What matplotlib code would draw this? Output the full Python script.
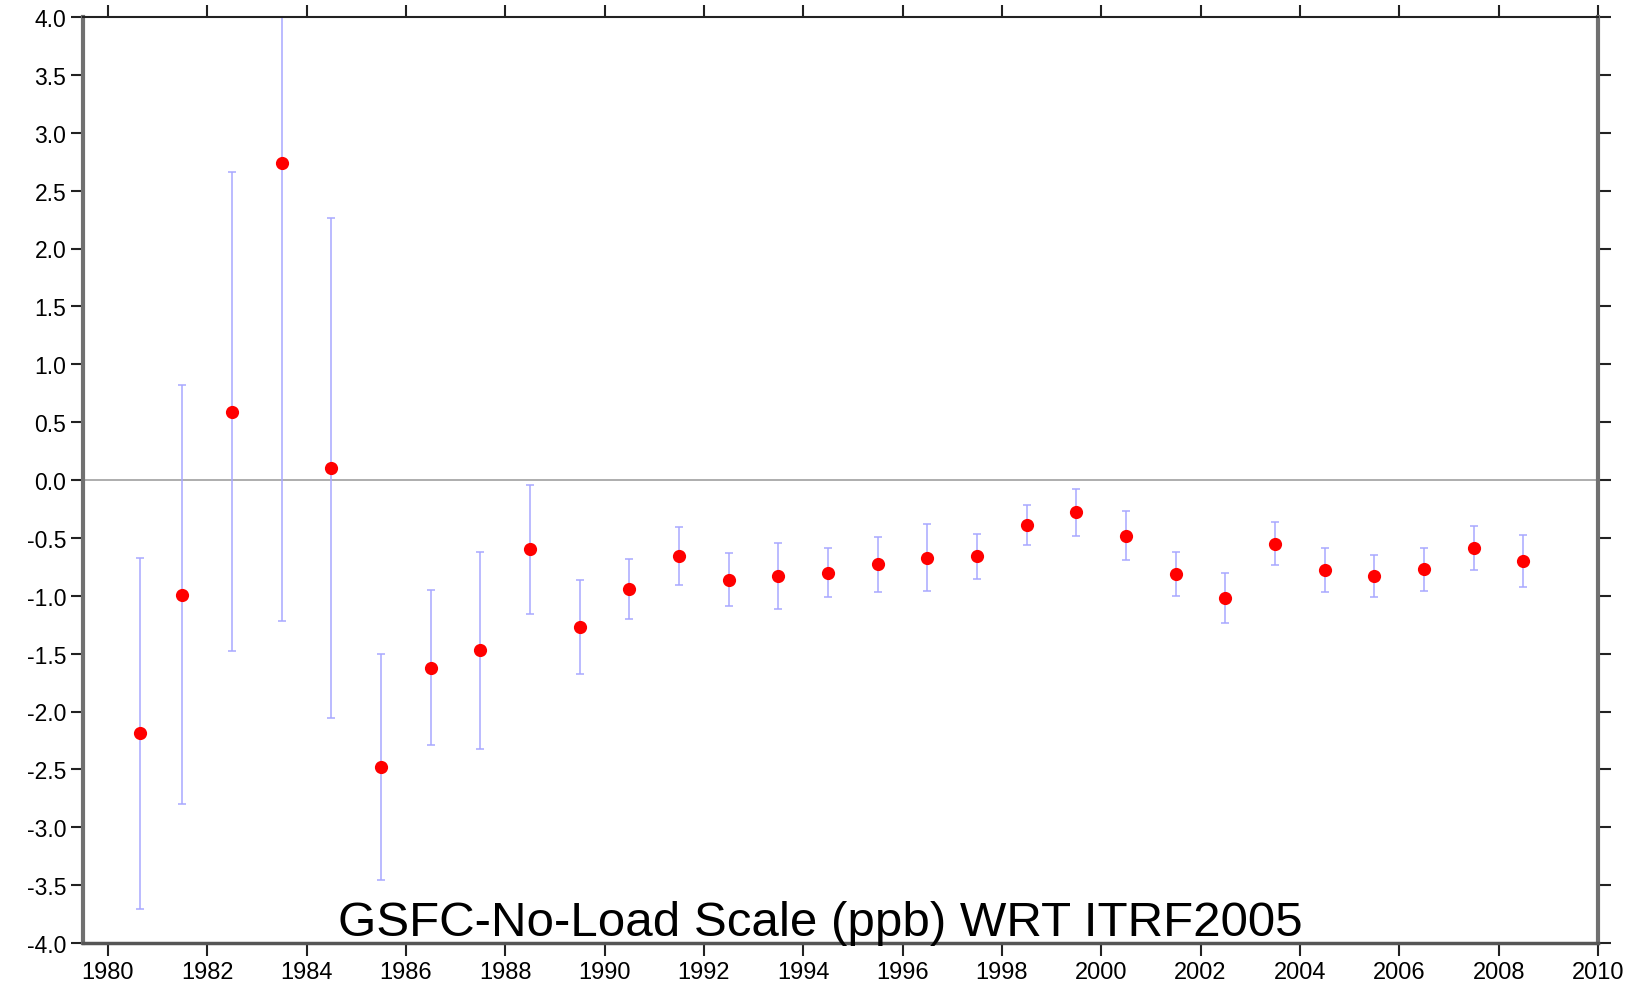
import numpy as np
import matplotlib.pyplot as plt

plt.rcParams['font.family'] = ['Liberation Sans', 'DejaVu Sans']

# scale offsets (ppb) and 1-sigma errors by year
years = [1980.65, 1981.5, 1982.5, 1983.5, 1984.5, 1985.5, 1986.5, 1987.5, 1988.5, 1989.5,
         1990.5, 1991.5, 1992.5, 1993.5, 1994.5, 1995.5, 1996.5, 1997.5, 1998.5, 1999.5,
         2000.5, 2001.5, 2002.5, 2003.5, 2004.5, 2005.5, 2006.5, 2007.5, 2008.5]
scale = [-2.19, -0.99, 0.59, 2.74, 0.10, -2.48, -1.62, -1.47, -0.60, -1.27,
         -0.94, -0.66, -0.86, -0.83, -0.80, -0.73, -0.67, -0.66, -0.39, -0.28,
         -0.48, -0.81, -1.02, -0.55, -0.78, -0.83, -0.77, -0.59, -0.70]
sigma = [1.52, 1.81, 2.07, 3.96, 2.16, 0.98, 0.67, 0.85, 0.56, 0.41,
         0.26, 0.25, 0.23, 0.285, 0.215, 0.235, 0.29, 0.195, 0.175, 0.20,
         0.21, 0.19, 0.215, 0.185, 0.19, 0.18, 0.185, 0.19, 0.225]

fig = plt.figure(figsize=(16.44, 9.87), dpi=100)
ax = fig.add_axes([83 / 1644, 1 - 944 / 987, 1515 / 1644, 926 / 987])

ax.axhline(0, color='#a0a0a0', lw=1.2, zorder=1)
ax.errorbar(years, scale, yerr=sigma, fmt='none', ecolor='#a8a8ff', elinewidth=1.1,
            capsize=3, capthick=1.1, zorder=2)
ax.plot(years, scale, 'o', color='red', markersize=9.5, markeredgewidth=0, zorder=3)

ax.set_xlim(1979.5, 2010)
ax.set_ylim(-4, 4)
ax.set_xticks(np.arange(1980, 2011, 2))
ax.set_yticks(np.arange(-4, 4.01, 0.5))
ax.yaxis.set_major_formatter(plt.FuncFormatter(lambda v, p: f'{v:.1f}'))
ax.xaxis.set_major_formatter(plt.FuncFormatter(lambda v, p: f'{int(v)}'))

ax.tick_params(axis='both', direction='out', length=9, width=1.5, color='#222222',
               top=True, right=True, labeltop=False, labelright=False)
ax.tick_params(axis='x', pad=4, labelsize=17)
ax.tick_params(axis='y', pad=3, labelsize=16.5)

ax.spines['left'].set_color('#707070')
ax.spines['left'].set_linewidth(3)
ax.spines['right'].set_color('#707070')
ax.spines['right'].set_linewidth(3)
ax.spines['bottom'].set_color('#555555')
ax.spines['bottom'].set_linewidth(2.5)
ax.spines['top'].set_color('#222222')
ax.spines['top'].set_linewidth(1.5)

ax.text(0.487, 0.009, 'GSFC-No-Load Scale (ppb) WRT ITRF2005', transform=ax.transAxes,
        ha='center', va='baseline', fontsize=35.5, color='black')

fig.savefig('out.png', dpi=100)
